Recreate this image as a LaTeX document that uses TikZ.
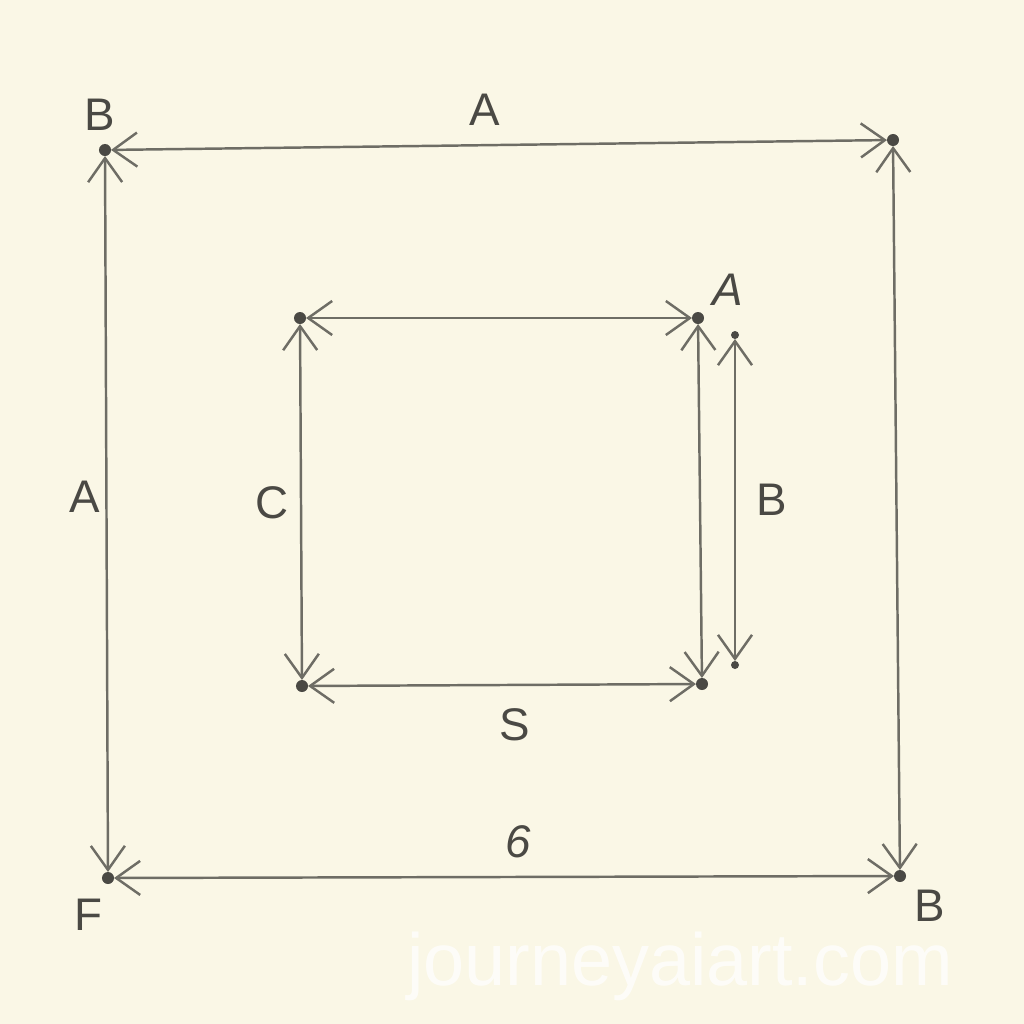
\documentclass[tikz,border=0pt]{standalone}
\usepackage{fontspec}
\setmainfont{Liberation Sans}
\usetikzlibrary{arrows.meta}
\definecolor{paper}{HTML}{FAF7E6}
\definecolor{pencil}{HTML}{6E6D65}
\definecolor{lead}{HTML}{4A4944}

\begin{document}
\begin{tikzpicture}[x=0.01cm,y=-0.01cm,
            side/.style={draw=pencil,line width=0.7pt,
                         {Straight Barb[length=2.4mm,width=3.4mm]}-{Straight Barb[length=2.4mm,width=3.4mm]}},
            corner/.style={circle,fill=lead,inner sep=0,outer sep=0,minimum size=1.2mm},
            lbl/.style={text=lead,font=\fontsize{13}{15}\selectfont,inner sep=0}]
            \fill[paper] (0,0) rectangle (1024,1024);
            %==================
            \node[corner] (o1) at (105,150){};
            \node[corner] (o2) at (893,140){};
            \node[corner] (o3) at (900,876){};
            \node[corner] (o4) at (108,878){};
            %==================
            \node[corner] (i1) at (300,318){};
            \node[corner] (i2) at (698,318){};
            \node[corner] (i3) at (702,684){};
            \node[corner] (i4) at (302,686){};
            %==================
            \node[corner,minimum size=0.8mm] (b1) at (735,335){};
            \node[corner,minimum size=0.8mm] (b2) at (735,665){};
            % ===================
            \foreach \a/\b in {1/2,2/3,4/3,1/4}{
            \draw[side] (o\a) -- (o\b);
            \draw[side] (i\a) -- (i\b);
            }
            \draw[side] (b1) -- (b2);
            % ===================
            \node[lbl] (lB1) at (100,115){B};
            \node[lbl] (lA1) at (485,110){A};
            \node[lbl] (lA2) at (85,497){A};
            \node[lbl] (lC) at (272,503){C};
            \node[lbl,font=\fontsize{13}{15}\selectfont\itshape] (lA3) at (728,290){A};
            \node[lbl] (lB2) at (772,500){B};
            \node[lbl] (lS) at (515,725){S};
            \node[lbl,font=\fontsize{13}{15}\selectfont\itshape] (l6) at (518,842){6};
            \node[lbl] (lF) at (88,915){F};
            \node[lbl] (lB3) at (930,906){B};
            % ===================
            \node[text=white,opacity=0.75,inner sep=0,font=\fontsize{21}{21}\selectfont] (mark) at (680,966){journeyaiart.com};
        \end{tikzpicture}
\end{document}
